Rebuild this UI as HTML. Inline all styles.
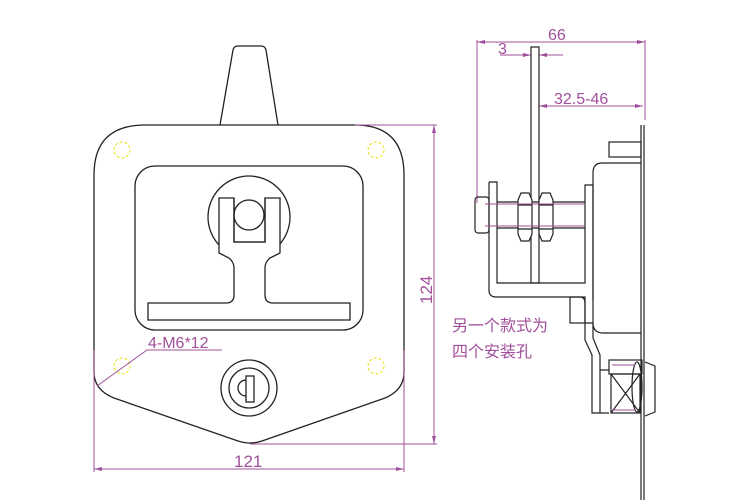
<!DOCTYPE html>
<html><head><meta charset="utf-8"><style>
html,body{margin:0;padding:0;background:#fff;}
svg{display:block;}
text{font-family:"Liberation Sans","Noto Sans CJK SC",sans-serif;fill:#a0509a;}
</style></head><body>
<svg width="750" height="500" viewBox="0 0 750 500" xmlns="http://www.w3.org/2000/svg">
<g fill="none" stroke="#222" stroke-width="1.3">
<path d="M220,125 L233,50 Q234,46 238,46 L261,46 Q265,46 266,50 L278,125"/>
<path d="M145,125 L355,125 Q404,125 404,175 L404,372 Q404,390 385,398 L262,441 Q250,445 238,441 L114,398 Q94,390 94,372 L94,175 Q94,125 145,125 Z"/>
<rect x="135" y="166" width="228" height="164" rx="20"/>
<circle cx="249" cy="217" r="41"/>
<path d="M219,198 L234,198 L234,242 L265,242 L265,198 L280,198 L280,253 L270,258 Q265,262 265,268 L265,295 Q265,303 273,303 L350,303 L350,320 L148,320 L148,303 L226,303 Q234,303 234,295 L234,268 Q234,262 229,258 L219,253 Z" fill="#fff"/>
<circle cx="249" cy="215" r="15"/>
<path d="M234,198 L234,242 L265,242 L265,198"/>
<circle cx="249" cy="388" r="28"/>
<circle cx="249" cy="388" r="20"/>
<rect x="246" y="376" width="8" height="26"/>
<path d="M246,380 A8,8 0 0 0 246,396"/>
</g>
<g fill="none" stroke="#e6e01a" stroke-width="1" stroke-dasharray="3,2">
<circle cx="122" cy="150" r="8"/><circle cx="376" cy="150" r="8"/>
<circle cx="122" cy="366" r="8"/><circle cx="376" cy="366" r="8"/>
</g>
<g stroke="#a0509a" stroke-width="1" fill="none">
<path d="M355,125 L437,125 M250,444 L437,444 M434,125 L434,444"/>
<path d="M94,350 L94,472 M404,350 L404,472 M94,469 L404,469"/>
<path d="M222,350 L147,350 L97,386"/>
<path d="M477,40 L477,203 M477,42 L645,42 M645,40 L645,120"/>
<path d="M500,55 L531,55 M539,55 L563,55 M539,106 L643,106"/>
</g>
<g fill="#a0509a">
<path d="M434,125 l-2,8 l4,0z M434,444 l-2,-8 l4,0z"/>
<path d="M94,469 l8,-2 l0,4z M404,469 l-8,-2 l0,4z"/>
<path d="M477,42 l8,-2 l0,4z M645,42 l-8,-2 l0,4z"/>
<path d="M531,55 l-8,-2 l0,4z M539,55 l8,-2 l0,4z"/>
<path d="M539,106 l8,-2 l0,4z M643,106 l-8,-2 l0,4z"/>
</g>
<text x="0" y="0" font-size="17" transform="translate(432,304) rotate(-90)">124</text>
<text x="234" y="467" font-size="17">121</text>
<text x="148" y="348" font-size="16">4-M6*12</text>
<text x="548" y="40" font-size="16">66</text>
<text x="498" y="54" font-size="16">3</text>
<text x="554" y="104" font-size="16">32.5-46</text>
<text x="452" y="331" font-size="16">另一个款式为</text>
<text x="452" y="357" font-size="16">四个安装孔</text>
<g fill="none" stroke="#222" stroke-width="1.2">
<path d="M641,125 L641,500 M644,125 L644,500"/>
<rect x="609" y="142" width="32" height="15"/>
<path d="M641,163 L602,163 Q593,163 593,173 L593,323 Q593,333 603,333 L641,333"/>
<rect x="531" y="47" width="8" height="236" fill="#fff"/>
<path d="M489,182 L497,182 L497,283 L585,283 L585,185 L593,185 L593,300"/>
<path d="M489,182 L489,290 Q489,297 496,297 L580,297 Q585,297 585,303 L585,323 L593,323"/>
<rect x="570" y="297" width="15" height="26"/>
<path d="M585,323 L585,340 L592,355 L592,413 L609,413 M593,323 L593,338 L600,355 L600,413 M600,370 L609,370"/>
<rect x="475" y="197" width="14" height="36" rx="3"/>
<path d="M497,202 L585,202 M497,228 L585,228"/>
<path d="M521,193 L529,193 L532,200 L532,234 L529,241 L521,241 L518,234 L518,200 Z" fill="#fff"/>
<path d="M542,193 L550,193 L553,200 L553,234 L550,241 L542,241 L539,234 L539,200 Z" fill="#fff"/>
<path d="M518,205 L532,205 M518,229 L532,229 M539,205 L553,205 M539,229 L553,229"/>
<rect x="609" y="360" width="33" height="14"/>
<rect x="611" y="374" width="29" height="39"/>
<path d="M611,374 L640,413 M611,413 L640,374"/>
<ellipse cx="637" cy="387" rx="5" ry="25"/>
<path d="M645,362 L655,366 L655,412 L645,416"/>
</g>
<g stroke="#a0509a" stroke-width="1">
<path d="M485,204 L585,204 M485,226 L585,226 M612,365 L635,365 M612,410 L635,410"/>
</g>
</svg>
</body></html>
